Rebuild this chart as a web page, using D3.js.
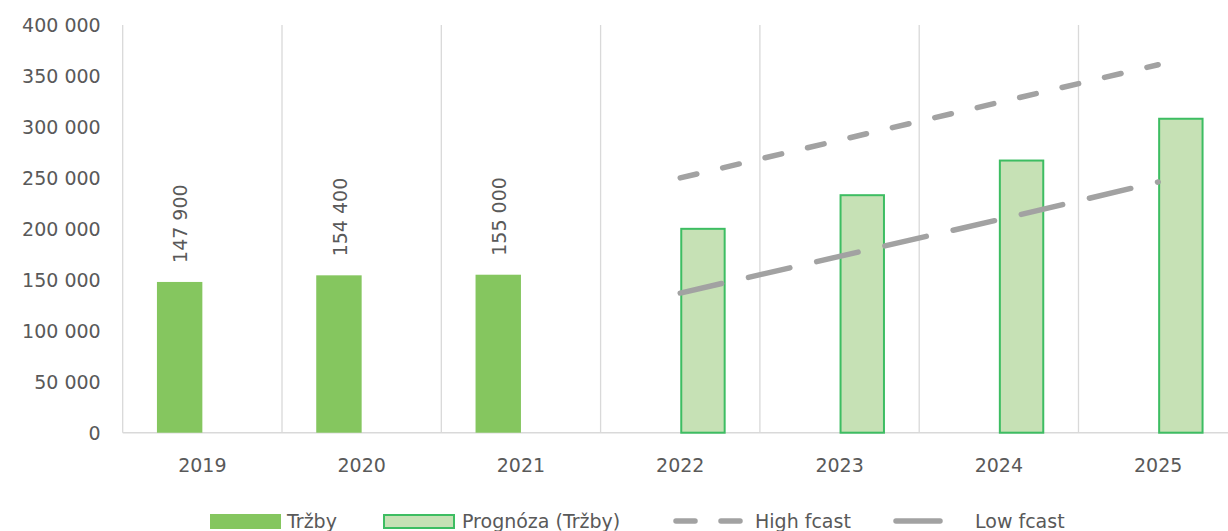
<!DOCTYPE html>
<html>
<head>
<meta charset="utf-8">
<script src="https://cdn.jsdelivr.net/npm/d3@7"></script>
<style>
html,body{margin:0;padding:0;background:#fff;overflow:hidden;}
svg{display:block;}
text{font-family:"DejaVu Sans",sans-serif;fill:#595959;}
</style>
</head>
<body>
<svg id="chart" width="1228" height="531"></svg>
<script>
// ---- data ----
const years = ["2019","2020","2021","2022","2023","2024","2025"];
const trzby = [147900, 154400, 155000, null, null, null, null];
const prognoza = [null, null, null, 201000, 234000, 268000, 309000];
const highFcast = [null, null, null, 250000, 287000, 324000, 361000];
const lowFcast = [null, null, null, 137000, 173000, 209000, 246000];
const yTicks = [0, 50000, 100000, 150000, 200000, 250000, 300000, 350000, 400000];
const legendLabels = ["Tržby", "Prognóza (Tržby)", "High fcast", "Low fcast"];

// ---- setup ----
const svg = d3.select("#chart");
const pLeft = 122.7, pRight = 1237.8, pTop = 25, pBottom = 432.7;
const fmt = d3.formatLocale({decimal:",", thousands:" ", grouping:[3], currency:["",""]}).format(",d");

const x = d3.scaleBand().domain(years).range([pLeft, pRight]).padding(0);
const inner = d3.scaleBand().domain(["trzby","prognoza"]).range([0, x.bandwidth()]).paddingInner(0).paddingOuter(0.754);
const y = d3.scaleLinear().domain([0, 400000]).range([pBottom, pTop]);

const grid = "#d9d9d9";
const bounds = years.map(d => x(d)).concat([pRight]);
svg.append("g").selectAll("line").data(bounds).join("line")
  .attr("x1", d => d).attr("x2", d => d)
  .attr("y1", pTop).attr("y2", pBottom)
  .attr("stroke", grid).attr("stroke-width", 1.3);
svg.append("line").attr("x1", pLeft).attr("x2", pRight).attr("y1", pBottom).attr("y2", pBottom)
  .attr("stroke", grid).attr("stroke-width", 1.5);

// y axis labels
const yAxis = d3.axisLeft(y).tickValues(yTicks).tickFormat(fmt).tickSize(0).tickPadding(22);
const ya = svg.append("g").attr("transform", `translate(${pLeft},0)`).call(yAxis);
ya.select(".domain").remove();
ya.selectAll("text").attr("font-size", 19).attr("font-family", "DejaVu Sans").attr("fill", "#595959").attr("dy", "0.36em");

// x axis labels
const xAxis = d3.axisBottom(x).tickSize(0).tickPadding(0);
const xa = svg.append("g").attr("transform", `translate(0,${pBottom})`).call(xAxis);
xa.select(".domain").remove();
xa.selectAll("text").attr("font-size", 19).attr("font-family", "DejaVu Sans").attr("fill", "#595959")
  .attr("dy", null).attr("y", 39.8);

// bars: Tržby
const trzbyData = years.map((d,i) => ({year:d, v:trzby[i]})).filter(d => d.v != null);
svg.append("g").selectAll("rect").data(trzbyData).join("rect")
  .attr("x", d => x(d.year) + inner("trzby"))
  .attr("width", inner.bandwidth())
  .attr("y", d => y(d.v))
  .attr("height", d => y(0) - y(d.v))
  .attr("fill", "#85c65f");

// bars: Prognóza
const progData = years.map((d,i) => ({year:d, v:prognoza[i]})).filter(d => d.v != null);
svg.append("g").selectAll("rect").data(progData).join("rect")
  .attr("x", d => x(d.year) + inner("prognoza") + 1)
  .attr("width", inner.bandwidth() - 2)
  .attr("y", d => y(d.v) + 1)
  .attr("height", d => y(0) - y(d.v) - 1)
  .attr("fill", "#c6e1b5")
  .attr("stroke", "#3dbd62").attr("stroke-width", 2);

// data labels for Tržby
svg.append("g").selectAll("text").data(trzbyData).join("text")
  .attr("transform", d => `translate(${x(d.year) + inner("trzby") + inner.bandwidth()/2 + 1},${y(d.v) - 19}) rotate(-90)`)
  .attr("text-anchor", "start")
  .attr("dy", "0.36em")
  .attr("font-size", 19)
  .text(d => fmt(d.v));

// forecast lines
const cx = d => x(d) + x.bandwidth()/2;
function drawLine(arr, dash){
  const pts = years.map((d,i) => ({year:d, v:arr[i]})).filter(d => d.v != null);
  const line = d3.line().x(d => cx(d.year)).y(d => y(d.v));
  svg.append("path").datum(pts).attr("d", line)
    .attr("fill", "none").attr("stroke", "#a2a2a2").attr("stroke-width", 5.5)
    .attr("stroke-linecap", "round").attr("stroke-dasharray", dash);
}
drawLine(highFcast, "17,26.6");
drawLine(lowFcast, "42.5,27.5");

// legend
const lg = svg.append("g");
lg.append("rect").attr("x", 210).attr("y", 514).attr("width", 71).attr("height", 15).attr("fill", "#85c65f");
lg.append("text").attr("x", 287).attr("y", 528).attr("font-size", 19).text(legendLabels[0]);
lg.append("rect").attr("x", 384).attr("y", 515).attr("width", 70).attr("height", 13)
  .attr("fill", "#c6e1b5").attr("stroke", "#3dbd62").attr("stroke-width", 2);
lg.append("text").attr("x", 462).attr("y", 528).attr("font-size", 19).text(legendLabels[1]);
lg.append("line").attr("x1", 676).attr("x2", 740).attr("y1", 521).attr("y2", 521)
  .attr("stroke", "#a2a2a2").attr("stroke-width", 5.5).attr("stroke-linecap", "round").attr("stroke-dasharray", "19,26");
lg.append("text").attr("x", 755).attr("y", 528).attr("font-size", 19).text(legendLabels[2]);
lg.append("line").attr("x1", 896).attr("x2", 940).attr("y1", 521).attr("y2", 521)
  .attr("stroke", "#a2a2a2").attr("stroke-width", 5.5).attr("stroke-linecap", "round");
lg.append("text").attr("x", 975).attr("y", 528).attr("font-size", 19).text(legendLabels[3]);
</script>
</body>
</html>
